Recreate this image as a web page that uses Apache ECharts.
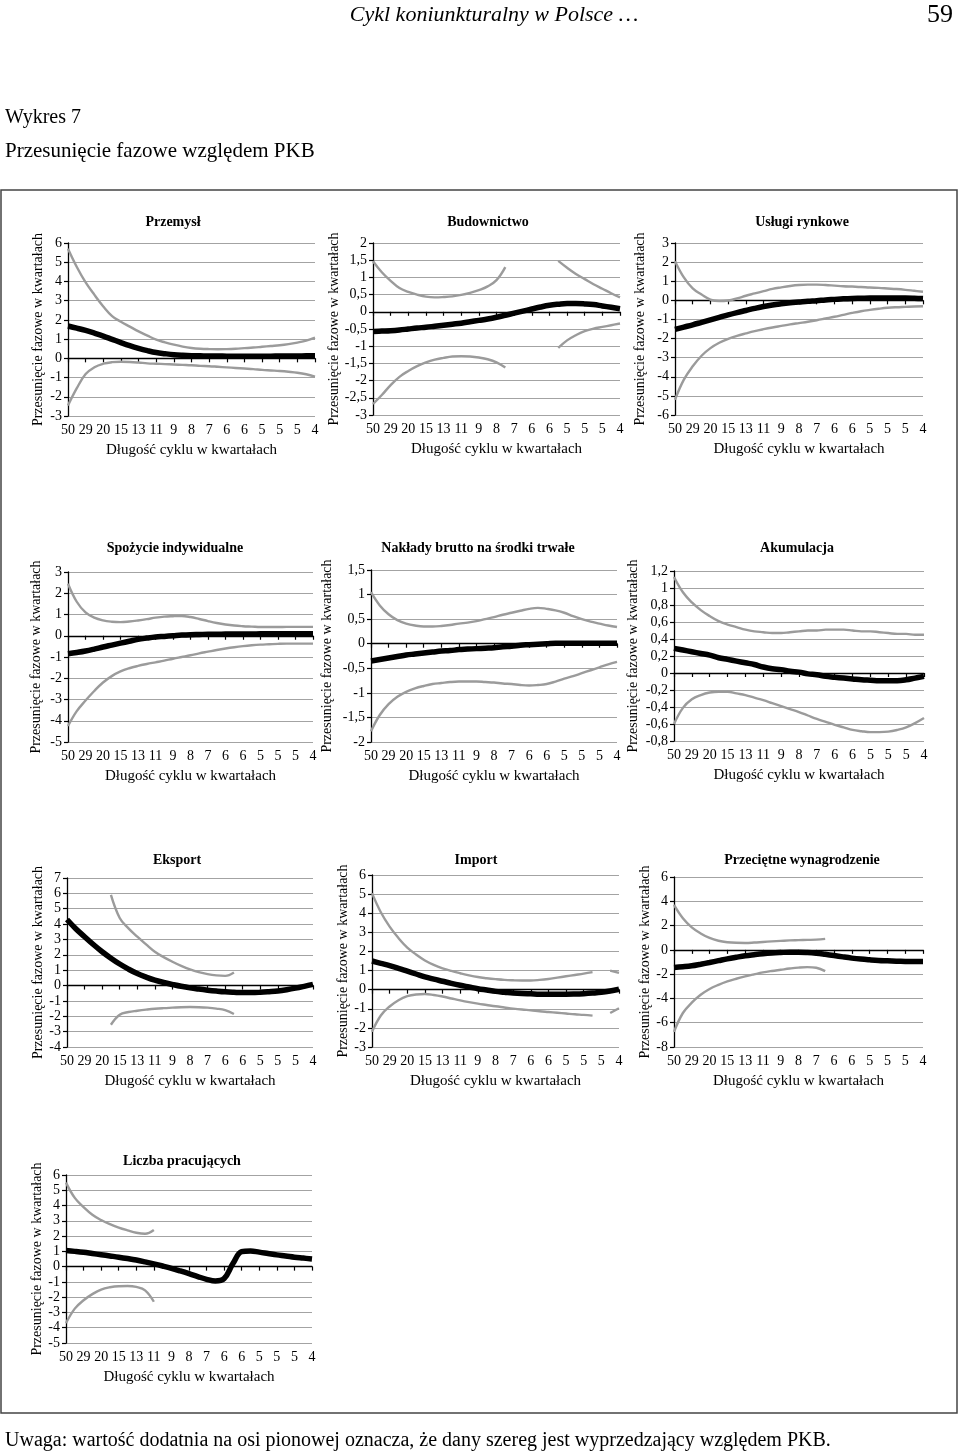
<!DOCTYPE html>
<html><head><meta charset="utf-8">
<script src="https://cdn.jsdelivr.net/npm/echarts@6/dist/echarts.min.js"></script>
<style>html,body{margin:0;padding:0;background:#fff}#c{width:960px;height:1455px}</style>
</head><body><div id="c"></div>
<script>
// x tick labels: cycle length in quarters
const tickLabels = ['50','29','20','15','13','11','9','8','7','6','6','5','5','5','4'];
// each series: values at half-steps of the category index (0, 0.5, ..., 14); null = no value

const przemyslPhase = [1.68,1.57,1.45,1.31,1.16,0.99,0.82,0.66,0.52,0.40,0.30,0.24,0.19,0.16,0.14,0.13,0.12,0.12,0.11,0.11,0.11,0.11,0.11,0.11,0.12,0.12,0.12,0.13,0.13];
const przemyslUpper = [5.7,4.75,3.95,3.3,2.7,2.2,1.9,1.65,1.4,1.18,0.97,0.83,0.71,0.61,0.54,0.5,0.48,0.47,0.48,0.5,0.53,0.56,0.6,0.64,0.68,0.74,0.82,0.92,1.08];
const przemyslLower = [-2.45,-1.55,-0.82,-0.46,-0.28,-0.2,-0.18,-0.19,-0.22,-0.26,-0.28,-0.3,-0.32,-0.34,-0.36,-0.39,-0.41,-0.44,-0.47,-0.5,-0.53,-0.56,-0.6,-0.63,-0.66,-0.7,-0.75,-0.83,-0.95];

const budownictwoPhase = [-0.57,-0.56,-0.55,-0.53,-0.5,-0.47,-0.45,-0.42,-0.39,-0.36,-0.33,-0.29,-0.25,-0.21,-0.16,-0.1,-0.04,0.02,0.08,0.14,0.19,0.22,0.24,0.24,0.23,0.21,0.17,0.13,0.09];
const budownictwoUpper = [1.47,1.15,0.9,0.69,0.58,0.5,0.44,0.42,0.43,0.45,0.49,0.55,0.63,0.74,0.92,1.3,null,null,null,null,null,1.48,1.28,1.1,0.95,0.8,0.67,0.54,0.42];
const budownictwoLower = [-2.68,-2.42,-2.13,-1.89,-1.72,-1.58,-1.47,-1.39,-1.34,-1.3,-1.29,-1.3,-1.33,-1.38,-1.47,-1.62,null,null,null,null,null,-1.05,-0.83,-0.68,-0.56,-0.49,-0.44,-0.39,-0.34];

const uslugiPhase = [-1.52,-1.4,-1.28,-1.15,-1.02,-0.89,-0.76,-0.64,-0.53,-0.42,-0.32,-0.24,-0.18,-0.13,-0.09,-0.05,-0.02,0.02,0.05,0.08,0.1,0.11,0.12,0.12,0.12,0.12,0.12,0.11,0.09];
const uslugiUpper = [2.05,1.2,0.62,0.3,0.04,-0.04,-0.01,0.1,0.24,0.36,0.48,0.6,0.68,0.75,0.8,0.82,0.82,0.8,0.77,0.74,0.72,0.7,0.67,0.65,0.62,0.59,0.55,0.5,0.45];
const uslugiLower = [-5.2,-4.15,-3.45,-2.9,-2.5,-2.22,-2.02,-1.86,-1.73,-1.61,-1.51,-1.42,-1.34,-1.26,-1.19,-1.12,-1.04,-0.95,-0.86,-0.76,-0.66,-0.57,-0.5,-0.44,-0.39,-0.36,-0.34,-0.32,-0.31];

const spozyciePhase = [-0.85,-0.79,-0.72,-0.63,-0.53,-0.44,-0.35,-0.26,-0.17,-0.11,-0.06,-0.03,0.0,0.03,0.05,0.06,0.07,0.07,0.08,0.08,0.08,0.08,0.09,0.09,0.09,0.09,0.09,0.09,0.09];
const spozycieUpper = [2.45,1.6,1.1,0.85,0.72,0.66,0.64,0.67,0.72,0.78,0.85,0.9,0.92,0.93,0.88,0.79,0.69,0.6,0.53,0.48,0.45,0.43,0.41,0.41,0.41,0.42,0.42,0.42,0.42];
const spozycieLower = [-4.25,-3.55,-3.05,-2.6,-2.2,-1.9,-1.68,-1.53,-1.42,-1.33,-1.25,-1.17,-1.08,-1.0,-0.92,-0.83,-0.75,-0.67,-0.6,-0.54,-0.49,-0.45,-0.42,-0.4,-0.38,-0.37,-0.37,-0.37,-0.37];

const nakladyPhase = [-0.35,-0.32,-0.29,-0.26,-0.23,-0.21,-0.19,-0.17,-0.15,-0.14,-0.12,-0.11,-0.1,-0.09,-0.08,-0.06,-0.05,-0.03,-0.02,-0.01,0.0,0.01,0.01,0.01,0.01,0.01,0.01,0.01,0.01];
const nakladyUpper = [1.05,0.78,0.6,0.48,0.41,0.37,0.35,0.35,0.36,0.38,0.41,0.43,0.46,0.5,0.54,0.59,0.63,0.67,0.71,0.73,0.71,0.68,0.63,0.56,0.5,0.45,0.41,0.37,0.34];
const nakladyLower = [-1.78,-1.45,-1.23,-1.08,-0.98,-0.91,-0.86,-0.82,-0.8,-0.78,-0.77,-0.77,-0.77,-0.78,-0.79,-0.81,-0.82,-0.84,-0.85,-0.84,-0.82,-0.77,-0.71,-0.66,-0.6,-0.54,-0.48,-0.42,-0.37];

const akumulacjaPhase = [0.29,0.27,0.25,0.23,0.21,0.18,0.16,0.14,0.12,0.1,0.07,0.05,0.04,0.02,0.01,-0.01,-0.02,-0.04,-0.05,-0.06,-0.07,-0.08,-0.085,-0.09,-0.09,-0.09,-0.08,-0.06,-0.04];
const akumulacjaUpper = [1.13,0.95,0.83,0.74,0.67,0.61,0.57,0.54,0.51,0.49,0.48,0.47,0.47,0.48,0.49,0.5,0.5,0.51,0.51,0.51,0.5,0.49,0.49,0.48,0.47,0.46,0.46,0.45,0.45];
const akumulacjaLower = [-0.6,-0.41,-0.31,-0.26,-0.23,-0.22,-0.22,-0.24,-0.26,-0.29,-0.32,-0.355,-0.39,-0.425,-0.46,-0.5,-0.54,-0.575,-0.61,-0.64,-0.67,-0.685,-0.695,-0.695,-0.69,-0.67,-0.64,-0.59,-0.53];

const eksportPhase = [4.3,3.7,3.18,2.67,2.2,1.78,1.4,1.07,0.78,0.55,0.35,0.2,0.07,-0.05,-0.15,-0.23,-0.3,-0.36,-0.41,-0.44,-0.46,-0.46,-0.44,-0.4,-0.35,-0.27,-0.17,-0.05,0.08];
const eksportUpper = [null,null,null,null,null,5.9,4.4,3.72,3.18,2.68,2.2,1.85,1.55,1.28,1.05,0.87,0.74,0.66,0.63,0.85,null,null,null,null,null,null,null,null,null];
const eksportLower = [null,null,null,null,null,-2.55,-1.9,-1.72,-1.64,-1.57,-1.51,-1.47,-1.44,-1.41,-1.4,-1.41,-1.44,-1.5,-1.6,-1.85,null,null,null,null,null,null,null,null,null];

const importPhase = [1.5,1.38,1.26,1.12,0.97,0.82,0.67,0.55,0.44,0.33,0.23,0.14,0.05,-0.02,-0.09,-0.13,-0.17,-0.2,-0.22,-0.24,-0.24,-0.24,-0.24,-0.23,-0.21,-0.18,-0.14,-0.07,0.02];
const importUpper = [5.05,4.05,3.3,2.7,2.2,1.84,1.53,1.3,1.12,0.98,0.86,0.75,0.66,0.6,0.55,0.51,0.49,0.48,0.48,0.51,0.56,0.63,0.7,0.77,0.84,0.92,null,1.0,0.88];
const importLower = [-2.2,-1.35,-0.88,-0.55,-0.34,-0.25,-0.23,-0.28,-0.36,-0.46,-0.56,-0.65,-0.73,-0.8,-0.87,-0.93,-0.99,-1.04,-1.08,-1.13,-1.17,-1.21,-1.25,-1.29,-1.32,-1.36,null,-1.22,-0.97];

const wynagrodzeniePhase = [-1.45,-1.39,-1.31,-1.18,-1.04,-0.89,-0.74,-0.61,-0.49,-0.4,-0.32,-0.26,-0.22,-0.19,-0.19,-0.22,-0.28,-0.37,-0.47,-0.58,-0.68,-0.76,-0.82,-0.87,-0.9,-0.93,-0.95,-0.96,-0.96];
const wynagrodzenieUpper = [3.7,2.6,1.85,1.35,0.98,0.75,0.63,0.58,0.57,0.6,0.65,0.7,0.74,0.78,0.8,0.82,0.84,0.9,null,null,null,null,null,null,null,null,null,null,null];
const wynagrodzenieLower = [-6.75,-5.2,-4.35,-3.7,-3.22,-2.88,-2.6,-2.38,-2.19,-2.02,-1.86,-1.74,-1.64,-1.54,-1.46,-1.42,-1.47,-1.75,null,null,null,null,null,null,null,null,null,null,null];

const pracujacyPhase = [1.05,1.0,0.94,0.86,0.78,0.7,0.62,0.53,0.43,0.31,0.18,0.04,-0.11,-0.28,-0.46,-0.65,-0.83,-0.94,-0.78,0.2,0.98,1.03,0.95,0.86,0.77,0.7,0.62,0.56,0.5];
const pracujacyUpper = [5.5,4.5,3.9,3.4,3.05,2.78,2.56,2.38,2.22,2.15,2.4,null,null,null,null,null,null,null,null,null,null,null,null,null,null,null,null,null,null];
const pracujacyLower = [-3.7,-2.75,-2.2,-1.8,-1.5,-1.35,-1.28,-1.27,-1.33,-1.55,-2.3,null,null,null,null,null,null,null,null,null,null,null,null,null,null,null,null,null,null];

const panelTitles = ['Przemysł','Budownictwo','Usługi rynkowe','Spożycie indywidualne','Nakłady brutto na środki trwałe','Akumulacja','Eksport','Import','Przeciętne wynagrodzenie','Liczba pracujących'];
const panelSeries = [
  [przemyslPhase, przemyslUpper, przemyslLower],
  [budownictwoPhase, budownictwoUpper, budownictwoLower],
  [uslugiPhase, uslugiUpper, uslugiLower],
  [spozyciePhase, spozycieUpper, spozycieLower],
  [nakladyPhase, nakladyUpper, nakladyLower],
  [akumulacjaPhase, akumulacjaUpper, akumulacjaLower],
  [eksportPhase, eksportUpper, eksportLower],
  [importPhase, importUpper, importLower],
  [wynagrodzeniePhase, wynagrodzenieUpper, wynagrodzenieLower],
  [pracujacyPhase, pracujacyUpper, pracujacyLower]
];
// y axis ranges [min, max, interval]
const yRanges = [[-3,6,1],[-3,2,0.5],[-6,3,1],[-5,3,1],[-2,1.5,0.5],[-0.8,1.2,0.2],[-4,7,1],[-3,6,1],[-8,6,2],[-5,6,1]];

// layout (pixels)
const layout = [
  {l:68, t:243, w:247, h:173, tx:173, ty:222, gap:23},
  {l:373, t:243, w:247, h:172, tx:488, ty:222, gap:31},
  {l:675, t:243, w:248, h:172, tx:802, ty:222, gap:28},
  {l:68, t:572, w:245, h:170, tx:175, ty:548, gap:25},
  {l:371, t:570, w:246, h:172, tx:478, ty:548, gap:37},
  {l:674, t:571, w:250, h:170, tx:797, ty:548, gap:34},
  {l:67, t:878, w:246, h:169, tx:177, ty:860, gap:20},
  {l:372, t:875, w:247, h:172, tx:476, ty:860, gap:22},
  {l:674, t:877, w:249, h:170, tx:802, ty:860, gap:19},
  {l:66, t:1175, w:246, h:168, tx:182, ty:1161, gap:20}
];

const F = '"Liberation Serif", "Times New Roman", serif';
const fmt = v => String(v).replace('.', ',');
const pts = arr => arr.map((v, i) => [i / 2, v == null ? '-' : v]);

const option = {animation:false, grid:[], xAxis:[], yAxis:[], series:[], graphic:[]};

panelTitles.forEach((title, k) => {
  const L = layout[k];
  const [mn, mx, iv] = yRanges[k];
  option.grid.push({left:L.l, top:L.t, width:L.w, height:L.h});
  option.xAxis.push({
    gridIndex:k, type:'value', min:0, max:tickLabels.length - 1, interval:1, position:'bottom',
    axisLine:{show:false, onZero:false}, axisTick:{show:false}, splitLine:{show:false},
    axisLabel:{margin:7, color:'#000', fontFamily:F, fontSize:14, formatter: v => tickLabels[Math.round(v)] ?? ''},
    name:'Długość cyklu w kwartałach', nameLocation:'middle', nameGap:27,
    nameTextStyle:{color:'#000', fontFamily:F, fontSize:15}
  });
  option.xAxis.push({
    gridIndex:k, type:'value', min:0, max:tickLabels.length - 1, interval:1, position:'top',
    axisLine:{show:true, onZero:true, lineStyle:{color:'#000', width:1.3}},
    axisTick:{show:true, inside:true, length:4, lineStyle:{color:'#000', width:1.2}},
    axisLabel:{show:false}, splitLine:{show:false}
  });
  option.yAxis.push({
    gridIndex:k, type:'value', min:mn, max:mx, interval:iv,
    axisLine:{show:true, onZero:false, lineStyle:{color:'#000', width:1.3}},
    axisTick:{show:true, length:4, lineStyle:{color:'#000', width:1.2}},
    axisLabel:{margin:6, color:'#000', fontFamily:F, fontSize:14, formatter: fmt},
    splitLine:{show:true, lineStyle:{color:'#a3a3a3', width:1.2}},
    name:'Przesunięcie fazowe w kwartałach', nameLocation:'middle', nameGap:L.gap,
    nameTextStyle:{color:'#000', fontFamily:F, fontSize:14}
  });
  const [ph, up, lo] = panelSeries[k];
  [up, lo].forEach(arr => option.series.push({
    type:'line', xAxisIndex:2*k, yAxisIndex:k, data:pts(arr), smooth:0.4, showSymbol:false,
    connectNulls:false, lineStyle:{color:'#9b9b9b', width:2.4}, z:2, silent:true
  }));
  option.series.push({
    type:'line', xAxisIndex:2*k, yAxisIndex:k, data:pts(ph), smooth:0.4, showSymbol:false,
    lineStyle:{color:'#000', width:5.5}, z:3, silent:true
  });
  option.graphic.push({type:'text', x:L.tx, y:L.ty, silent:true,
    style:{text:title, font:'bold 14px ' + F, fill:'#000', align:'center', verticalAlign:'middle', textAlign:'center', textVerticalAlign:'middle'}});
});

option.graphic.push(
  {type:'rect', silent:true, shape:{x:1, y:190, width:956, height:1223}, style:{fill:'none', stroke:'#444', lineWidth:1.5}},
  {type:'text', x:494, y:15, silent:true, style:{text:'Cykl koniunkturalny w Polsce …', font:'italic 22px ' + F, fill:'#000', align:'center', verticalAlign:'middle', textAlign:'center', textVerticalAlign:'middle'}},
  {type:'text', x:940, y:15, silent:true, style:{text:'59', font:'26px ' + F, fill:'#000', align:'center', verticalAlign:'middle', textAlign:'center', textVerticalAlign:'middle'}},
  {type:'text', x:5, y:118, silent:true, style:{text:'Wykres 7', font:'20px ' + F, fill:'#000', align:'left', verticalAlign:'middle', textAlign:'left', textVerticalAlign:'middle'}},
  {type:'text', x:5, y:151, silent:true, style:{text:'Przesunięcie fazowe względem PKB', font:'21px ' + F, fill:'#000', align:'left', verticalAlign:'middle', textAlign:'left', textVerticalAlign:'middle'}},
  {type:'text', x:5, y:1441, silent:true, style:{text:'Uwaga: wartość dodatnia na osi pionowej oznacza, że dany szereg jest wyprzedzający względem PKB.', font:'20px ' + F, fill:'#000', align:'left', verticalAlign:'middle', textAlign:'left', textVerticalAlign:'middle'}}
);

const chart = echarts.init(document.getElementById('c'), null, {renderer:'canvas'});
chart.setOption(option);
</script>
</body></html>
